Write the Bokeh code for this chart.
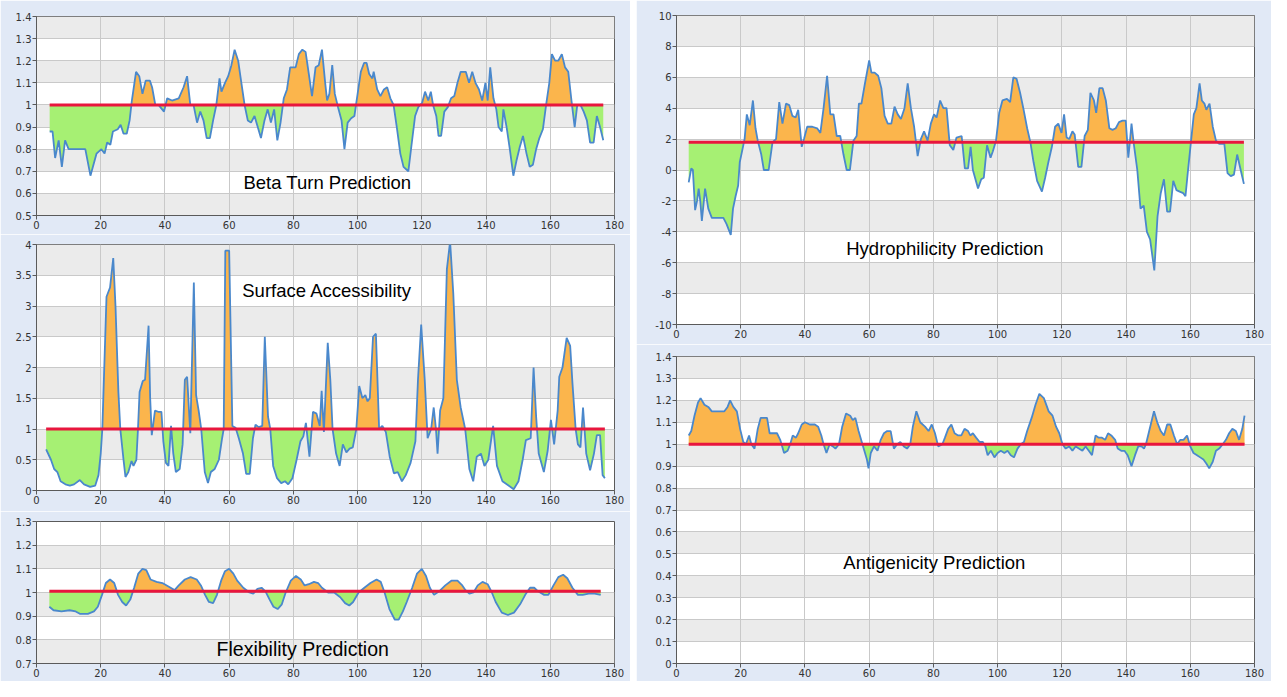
import numpy as np
from bokeh.plotting import figure
from bokeh.layouts import row, column
from bokeh.models import Range1d, FixedTicker, Label, Spacer, BoxAnnotation, Grid
from bokeh.embed import file_html
from bokeh.resources import INLINE

# ---------------- data ----------------
x_ticks = [0, 20, 40, 60, 80, 100, 120, 140, 160, 180]

beta_title = "Beta Turn Prediction"
beta_threshold = 1.0
beta_yticks = [0.5, 0.6, 0.7, 0.8, 0.9, 1.0, 1.1, 1.2, 1.3, 1.4]
beta_x = [4.1, 5, 5.8, 6.9, 7.9, 8.9, 10, 12, 14, 15.2, 16.8, 18.7, 20.2, 21.2, 22, 23, 23.8, 25.3, 26.2, 27.1,
          28.1, 29, 29.7, 31, 32, 33, 34, 35.3, 36, 37, 38, 39.7, 40.7, 42.2, 44.3, 45.8, 46.9, 47.9, 48.9, 50,
          51, 52, 53, 54, 55, 56, 57, 57.6, 58.7, 59.7, 60.7, 61.7, 62.8, 63.8, 64.8, 65.8, 66.8, 67.9, 68.9, 69.9,
          71, 72, 73, 74, 75, 76, 77, 78, 79, 80.7, 81.7, 82.8, 83.8, 84.8, 85.8, 86.9, 87.9, 88.9, 89.9, 90.5,
          91.2, 92.1, 92.9, 93.9, 95, 95.9, 96.9, 98, 99, 100, 101, 102, 102.8, 103.6, 104.6, 105, 106.1, 107.1,
          108.2, 109.2, 110.2, 111.2, 112.2, 113.3, 114.3, 115.8, 116.8, 117.9, 118.9, 120.1, 121, 122, 122.8,
          123.5, 124.5, 125.2, 126, 127, 128.1, 129.1, 130.1, 131.1, 132.1, 133.7, 134.7, 135.7, 136.7, 137.8,
          138.8, 139.8, 140.5, 141.3, 142.3, 143.2, 143.9, 144.9, 145.4, 146.4, 147.4, 148.5, 149.5, 150.5, 151.5,
          152.6, 153.6, 154.6, 155.6, 156.6, 157.7, 158.7, 159.7, 160.5, 161.5, 162.5, 163.6, 164.6, 165.6, 166.6,
          167.6, 168.4, 169.4, 170.4, 171.4, 172.4, 173.5, 174.5, 175.5, 176.5]
beta_y = [0.88, 0.88, 0.76, 0.84, 0.72, 0.84, 0.80, 0.80, 0.80, 0.80, 0.68, 0.78, 0.80, 0.78, 0.83, 0.82, 0.88, 0.89,
          0.91, 0.87, 0.87, 0.93, 1.02, 1.15, 1.13, 1.05, 1.11, 1.11, 1.08, 1.0, 1.0, 0.97, 1.03, 1.02, 1.03, 1.08,
          1.13, 1.0, 1.0, 0.92, 0.97, 0.93, 0.85, 0.85, 0.93, 1.0, 1.12, 1.06, 1.10, 1.13, 1.18, 1.25, 1.20, 1.10,
          1.0, 0.93, 0.92, 0.95, 0.90, 0.85, 0.93, 0.98, 0.92, 0.98, 0.84, 0.92, 1.03, 1.07, 1.17, 1.17, 1.23, 1.25,
          1.24, 1.14, 1.04, 1.17, 1.18, 1.25, 1.10, 1.02, 1.05, 1.18, 1.05, 0.99, 0.93, 0.80, 0.92, 0.94, 0.95,
          1.05, 1.15, 1.19, 1.19, 1.14, 1.12, 1.15, 1.07, 1.04, 1.07, 1.08, 1.03, 1.0, 0.90, 0.78, 0.72, 0.70,
          0.82, 0.95, 0.99, 1.01, 1.06, 1.02, 1.06, 1.0, 0.95, 0.86, 0.86, 0.97, 0.99, 1.03, 1.04, 1.10, 1.15,
          1.15, 1.10, 1.15, 1.10, 1.07, 1.02, 1.10, 1.02, 1.17, 1.03, 0.98, 0.90, 0.88, 0.98, 0.90, 0.80, 0.68,
          0.75, 0.81, 0.86, 0.78, 0.72, 0.73, 0.80, 0.85, 0.89, 1.0, 1.10, 1.23, 1.20, 1.20, 1.23, 1.17, 1.15,
          1.02, 0.90, 1.0, 1.0, 0.97, 0.93, 0.83, 0.83, 0.95, 0.90, 0.84]

surf_title = "Surface Accessibility"
surf_threshold = 1.0
surf_yticks = [0, 0.5, 1, 1.5, 2, 2.5, 3, 3.5, 4]
surf_x = [3, 4.5, 5.5, 6.5, 7.5, 9, 10.4, 11.7, 13.5, 14.8, 16.7, 18.3, 19.3, 20, 20.5, 21.8, 22.9, 23.9, 24.6,
          25.5, 26.1, 27.1, 27.7, 28.6, 29.6, 30.2, 31.1, 31.6, 32.1, 33.1, 33.8, 34.9, 35.4, 35.9, 36.9, 37.9,
          38.9, 39.5, 40.3, 41.1, 41.9, 42.6, 43.4, 44.6, 45.5, 46.2, 46.9, 47.9, 49, 49.7, 50.5, 51.3, 52.4,
          53.4, 54.3, 55.5, 56.8, 57.8, 58.3, 58.8, 60, 61, 62, 63, 64.3, 65.3, 66.4, 67.4, 68.2, 69.2, 70.3,
          71.1, 72.1, 72.8, 73.7, 74.9, 76.2, 77.4, 78.4, 79.7, 81, 82.2, 83.1, 83.9, 85, 86.1, 87.2, 88.2, 88.8,
          89.5, 90.7, 91.5, 92.2, 93.3, 94.4, 95.4, 96.5, 97.5, 98.5, 99.6, 100.5, 101.5, 102.4, 103.1, 103.8,
          104.8, 105.7, 106.7, 107.7, 108.8, 110, 111.3, 112.5, 113.8, 115, 116.5, 118, 118.8, 119.8, 120.9,
          121.8, 122.9, 123.7, 124.4, 124.9, 125.7, 126.7, 127.8, 128.8, 129.8, 130.9, 132.1, 133.5, 134.8, 136,
          137.1, 138.4, 139.5, 140.7, 142.2, 143.4, 145.1, 147, 148.6, 150.1, 151.4, 152.4, 153.9, 154.8, 155.6,
          156.4, 158, 159.2, 160.2, 161.2, 162.3, 162.8, 163.8, 165.1, 166.2, 166.9, 167.9, 168.6, 169.4, 170.2,
          171.2, 172.4, 173.6, 174.5, 175.5, 176.3, 177]
surf_y = [0.67, 0.5, 0.35, 0.3, 0.15, 0.1, 0.08, 0.1, 0.17, 0.1, 0.06, 0.08, 0.25, 0.6, 1.0, 3.15, 3.3, 3.78, 3.0,
          1.6, 1.0, 0.5, 0.22, 0.3, 0.48, 0.4, 0.5, 1.0, 1.6, 1.78, 1.8, 2.68, 1.5, 0.9, 1.3, 1.28, 1.28, 0.8,
          0.45, 0.4, 1.05, 0.6, 0.3, 0.35, 0.75, 1.8, 1.85, 0.93, 3.38, 1.55, 1.3, 1.0, 0.3, 0.12, 0.3, 0.35,
          0.5, 0.85, 1.0, 3.9, 3.9, 1.05, 1.02, 0.85, 0.6, 0.27, 0.27, 0.85, 1.07, 1.03, 1.05, 2.5, 1.2, 1.0,
          0.4, 0.2, 0.12, 0.15, 0.1, 0.2, 0.5, 0.8, 0.88, 1.1, 0.55, 1.28, 1.25, 1.05, 1.62, 0.95, 2.4, 1.8,
          1.0, 0.6, 0.4, 0.75, 0.62, 0.68, 0.7, 1.0, 1.7, 1.5, 1.55, 1.45, 1.5, 2.5, 2.55, 1.0, 1.05, 0.95,
          0.55, 0.28, 0.3, 0.15, 0.25, 0.45, 0.8, 1.8, 2.7, 1.8, 0.85, 1.0, 1.35, 1.0, 0.6, 1.3, 1.5, 3.6,
          4.05, 3.2, 1.8, 1.35, 1.0, 0.35, 0.15, 0.55, 0.6, 0.4, 0.5, 1.05, 0.4, 0.15, 0.08, 0.02, 0.15, 0.5,
          0.82, 0.85, 2.0, 1.2, 0.6, 0.3, 0.65, 1.15, 0.75, 1.3, 1.85, 2.0, 2.48, 2.35, 1.75, 1.0, 0.75, 0.7,
          1.35, 0.6, 0.33, 0.6, 0.9, 0.9, 0.25, 0.2]

flex_title = "Flexibility Prediction"
flex_threshold = 1.005
flex_yticks = [0.7, 0.8, 0.9, 1.0, 1.1, 1.2, 1.3]
flex_x = [4, 5.3, 7.8, 10.3, 12.2, 13.5, 16, 17.9, 19.1, 20.4, 21.6, 22.9, 24.2, 25.4, 26.7, 27.9, 29.2, 30.4,
          31.7, 33, 34.2, 35.5, 37.4, 39.2, 41.1, 43, 44.3, 46.2, 48, 49.9, 51.2, 52.5, 53.7, 55, 56.2, 57.5,
          58.7, 60, 61.3, 62.5, 64.4, 66.3, 67.5, 68.8, 70.1, 71.3, 72.6, 73.8, 75.1, 76.4, 77.6, 79.2, 80.8,
          82.3, 83.5, 84.8, 86.4, 87.7, 88.9, 90.8, 92.7, 94.6, 96.1, 97.4, 98.6, 100.3, 102.1, 104, 105.9,
          107.2, 108.4, 109.9, 111.6, 112.8, 114.1, 115.3, 117, 118.5, 120, 121.3, 122.5, 123.8, 125.4, 127.3,
          129.2, 131.1, 132.6, 133.6, 134.8, 136.1, 137.4, 138.9, 140.5, 141.8, 143, 144.9, 146.8, 148.7,
          150.6, 152.2, 153.7, 155, 156.2, 158.1, 159.4, 161, 162.5, 164, 165.3, 166.9, 168.6, 170.1, 172,
          173.8, 175.7]
flex_y = [0.94, 0.925, 0.92, 0.925, 0.92, 0.91, 0.91, 0.92, 0.94, 0.99, 1.04, 1.055, 1.04, 0.99, 0.96, 0.945,
          0.97, 1.02, 1.08, 1.1, 1.095, 1.055, 1.045, 1.04, 1.025, 1.01, 1.03, 1.055, 1.065, 1.055, 1.03, 0.99,
          0.96, 0.955, 0.99, 1.05, 1.09, 1.1, 1.08, 1.05, 1.02, 1.0, 0.995, 1.015, 1.02, 1.005, 0.97, 0.94,
          0.93, 0.95, 1.0, 1.05, 1.07, 1.055, 1.03, 1.035, 1.045, 1.04, 1.02, 1.0, 1.0, 0.98, 0.955, 0.945,
          0.96, 1.0, 1.02, 1.04, 1.055, 1.045, 1.0, 0.93, 0.885, 0.885, 0.92, 0.96, 1.02, 1.08, 1.1, 1.07,
          1.02, 0.99, 1.005, 1.03, 1.05, 1.05, 1.03, 1.01, 0.995, 1.0, 1.03, 1.045, 1.035, 1.0, 0.96, 0.915,
          0.905, 0.915, 0.95, 0.99, 1.02, 1.02, 1.005, 0.99, 0.99, 1.03, 1.065, 1.075, 1.06, 1.02, 0.99, 0.99,
          0.995, 0.995, 0.99]

hydro_title = "Hydrophilicity Prediction"
hydro_threshold = 1.8
hydro_yticks = [-10, -8, -6, -4, -2, 0, 2, 4, 6, 8, 10]
hydro_x = [3.8, 4.6, 5.1, 5.8, 6.4, 6.9, 7.4, 7.9, 8.9, 9.9, 11, 12.5, 14.6, 15.6, 16.9, 17.6, 18.4, 19.2, 19.7,
           20.7, 21.2, 21.9, 22.8, 23.8, 24.6, 25.3, 26.4, 27.2, 28.7, 29.9, 31, 32, 33, 34.1, 35.1, 36.1, 37.1,
           37.9, 39, 39.7, 40.7, 42.3, 43.8, 44.8, 45.8, 46.9, 47.9, 48.9, 49.9, 51, 52, 53, 54, 55.1, 56.1,
           56.8, 57.6, 58.6, 60, 60.7, 61.7, 62.8, 63.8, 64.8, 65.8, 66.9, 67.9, 68.9, 69.9, 71, 72, 73, 74,
           75.1, 76.1, 77.1, 78.2, 79.2, 80.2, 81, 82.1, 83.1, 84.1, 85.1, 86.2, 87.2, 88.8, 89.8, 90.8, 91.6,
           92.3, 93.9, 94.9, 95.7, 96.7, 97.8, 98.5, 99.5, 100.5, 101.5, 102.9, 103.9, 104.9, 105.9, 107, 108,
           109.2, 110.2, 111.2, 112.3, 113.8, 114.8, 115.8, 116.9, 117.9, 118.9, 119.9, 120.7, 121.5, 122.3,
           123.3, 124, 125.1, 126.1, 127.1, 128.1, 128.9, 130, 130.7, 131.7, 132.7, 133.7, 134.8, 135.8, 136.8,
           137.8, 138.9, 139.9, 140.7, 141.1, 141.7, 142.4, 143.5, 144.5, 145.5, 146.5, 147.5, 148.8, 149.8,
           150.8, 151.8, 152.8, 153.7, 154.7, 155.7, 156.7, 157.8, 158.5, 159.3, 160.3, 161.1, 161.9, 162.9,
           163.6, 164.4, 165, 166, 167, 168, 169, 170.6, 171.6, 172.6, 173.6, 174.6, 175.7, 176.7]
hydro_y = [-0.8, 0.1, 0.0, -2.6, -2.0, -1.2, -2.0, -3.3, -1.2, -2.5, -3.1, -3.1, -3.1, -3.5, -4.2, -2.5, -1.7,
           -1.0, 0.5, 1.5, 2.0, 3.6, 2.9, 4.5, 2.7, 1.9, 1.0, 0.0, 0.0, 1.8, 2.0, 4.4, 3.0, 4.3, 4.2, 3.5, 3.4,
           3.9, 1.5, 2.0, 2.8, 2.8, 2.7, 2.4, 4.0, 6.1, 3.6, 3.6, 2.2, 2.2, 1.0, 0.0, 0.0, 1.9, 2.2, 4.3, 4.3,
           5.5, 7.1, 6.3, 6.3, 6.1, 5.3, 3.5, 3.0, 3.0, 4.1, 3.6, 3.3, 4.0, 5.6, 4.0, 2.8, 0.9, 2.0, 2.5, 1.9,
           3.0, 3.6, 3.4, 4.5, 4.0, 4.0, 1.6, 1.3, 2.1, 2.2, 0.1, 0.1, 1.5, 0.0, -1.2, -0.6, -0.5, 1.6, 0.8,
           1.2, 1.9, 3.7, 4.5, 4.6, 4.4, 6.0, 5.9, 5.0, 4.0, 2.7, 1.8, 0.5, -0.7, -1.4, -0.5, 0.5, 1.5, 2.8,
           3.0, 2.4, 3.6, 2.1, 2.0, 2.5, 2.3, 0.2, 0.2, 2.2, 2.6, 5.0, 4.5, 3.7, 5.3, 5.3, 4.5, 2.7, 2.6, 2.7,
           3.1, 3.2, 3.2, 0.8, 1.6, 3.0, 1.7, 0.0, -2.5, -2.3, -4.0, -4.5, -6.5, -3.0, -1.5, -0.6, -2.7, -2.7,
           -0.7, -1.3, -1.4, -1.5, -1.7, 0.0, 2.0, 3.6, 4.0, 5.6, 4.5, 4.3, 3.9, 4.3, 2.8, 1.9, 1.7, 1.7, -0.2,
           -0.4, -0.3, 1.0, 0.0, -0.9]

anti_title = "Antigenicity Prediction"
anti_threshold = 1.0
anti_yticks = [0, 0.1, 0.2, 0.3, 0.4, 0.5, 0.6, 0.7, 0.8, 0.9, 1.0, 1.1, 1.2, 1.3, 1.4]
anti_x = [3.8, 4.6, 5.6, 6.7, 7.5, 8.7, 9.9, 11, 12.8, 14.9, 15.9, 16.7, 17.7, 18.8, 19.8, 20.8, 21.6, 22.6,
          23.3, 24.3, 25.3, 26.2, 27.2, 28.2, 29, 30.3, 31.3, 32.3, 33.5, 34.6, 35.4, 36.2, 37.2, 37.9, 39, 40,
          41.5, 43.1, 44.1, 45.1, 45.8, 46.7, 47.7, 48.7, 49.5, 50.6, 51.6, 52.8, 54.1, 54.9, 55.7, 56.7, 57.7,
          58.5, 59.3, 59.8, 60.5, 61.5, 62.6, 63.6, 64.6, 65.6, 66.7, 67.7, 68.7, 69.7, 70.8, 71.8, 72.8, 73.6,
          74.7, 75.9, 77.4, 78.5, 79.5, 80.5, 81.5, 82.8, 83.6, 84.6, 85.6, 86.6, 87.7, 88.7, 89.7, 90.8, 91.5,
          92.3, 93.3, 94.4, 95.4, 96.2, 96.9, 97.9, 99, 100, 101, 102.1, 103.1, 104.1, 105.1, 106.2, 107.2,
          108.2, 109.2, 110.6, 111.8, 113, 114.4, 115.9, 117.1, 118.2, 119.2, 120.2, 121.2, 122.3, 123.3, 124.3,
          125.3, 126.4, 127.4, 128.4, 129.4, 130.5, 131.5, 132.5, 133.5, 134.4, 135.4, 136.6, 137.4, 138.5,
          139.5, 140.5, 141.7, 142.8, 143.8, 144.8, 145.6, 146.2, 147.2, 148.7, 149.7, 150.8, 151.8, 152.8,
          153.8, 154.9, 155.9, 156.9, 157.9, 159, 160, 161, 162.1, 163.1, 164.1, 165.1, 165.9, 167, 168, 169,
          170.1, 171.1, 172.1, 173.1, 174.2, 175.2, 176.2, 176.9]
anti_y = [1.04, 1.06, 1.13, 1.19, 1.21, 1.18, 1.17, 1.15, 1.15, 1.15, 1.17, 1.20, 1.17, 1.15, 1.07, 1.01, 1.0,
          1.04, 1.0, 0.98, 1.07, 1.12, 1.12, 1.12, 1.05, 1.05, 1.05, 1.02, 0.96, 0.97, 1.0, 1.04, 1.03, 1.05,
          1.09, 1.10, 1.09, 1.09, 1.08, 1.04, 1.0, 0.96, 1.0, 0.99, 0.98, 1.0, 1.08, 1.14, 1.13, 1.11, 1.12,
          1.06, 1.01, 0.97, 0.93, 0.89, 0.96, 0.99, 0.97, 1.02, 1.05, 1.06, 1.06, 0.98, 1.0, 1.01, 0.99, 0.98,
          1.0, 1.08, 1.15, 1.1, 1.08, 1.06, 1.09, 1.05, 0.99, 1.0, 1.03, 1.07, 1.09, 1.05, 1.04, 1.04, 1.07,
          1.06, 1.04, 1.05, 1.03, 1.01, 1.01, 0.99, 0.95, 0.97, 0.94, 0.96, 0.97, 0.96, 0.97, 0.95, 0.94, 0.98,
          1.0, 1.01, 1.06, 1.12, 1.18, 1.23, 1.21, 1.15, 1.13, 1.08, 1.05, 1.0, 0.98, 0.99, 0.97, 0.99, 0.98,
          0.97, 0.99, 0.97, 0.95, 1.04, 1.03, 1.03, 1.02, 1.05, 1.04, 1.02, 0.98, 0.97, 0.97, 0.95, 0.9, 0.95,
          0.99, 0.99, 0.98, 1.0, 1.06, 1.15, 1.1, 1.06, 1.04, 1.09, 1.09, 1.04, 1.0, 1.02, 1.02, 1.04, 0.99,
          0.96, 0.95, 0.94, 0.93, 0.91, 0.89, 0.92, 0.97, 0.98, 1.0, 1.02, 1.05, 1.07, 1.06, 1.02, 1.07, 1.13]

# ---------------- styling ----------------
BG = "#e1e9f6"
BAND = "#ebebeb"
GRID = "#c9c9c9"
ORANGE = "#fbb54c"
GREEN = "#a6f073"
BLUE = "#4a88cc"
RED = "#e8163e"
TICK_FONT = "DejaVu Sans"
TITLE_FONT = "Liberation Sans"


def split_fill(xs, ys, thr):
    X = [xs[0]]
    Y = [ys[0]]
    for i in range(1, len(xs)):
        x0, y0, x1, y1 = xs[i - 1], ys[i - 1], xs[i], ys[i]
        if (y0 - thr) * (y1 - thr) < 0:
            t = (thr - y0) / (y1 - y0)
            X.append(x0 + t * (x1 - x0))
            Y.append(thr)
        X.append(x1)
        Y.append(y1)
    X = np.array(X)
    Y = np.array(Y)
    return X, np.maximum(Y, thr), np.minimum(Y, thr)


def fmt(t):
    return f"{t:g}"


def make_panel(xs, ys, thr, yticks, title, tx, ty, fs, fw, fh, bl, br, bt, bb, top_grey):
    p = figure(frame_width=fw, frame_height=fh,
               x_range=Range1d(0, 180), y_range=Range1d(yticks[0], yticks[-1]),
               output_backend="svg", toolbar_location=None,
               min_border_left=bl, min_border_right=br, min_border_top=bt, min_border_bottom=bb)
    p.border_fill_color = BG
    p.background_fill_color = "white"
    p.outline_line_color = "#5a5a5a"
    p.outline_line_width = 1

    p.xaxis.ticker = FixedTicker(ticks=x_ticks)
    p.yaxis.ticker = FixedTicker(ticks=yticks)
    p.yaxis.major_label_overrides = {t: fmt(t) for t in yticks}
    p.xaxis.major_label_overrides = {t: fmt(t) for t in x_ticks}
    for ax in (p.xaxis, p.yaxis):
        ax.axis_line_color = "#5a5a5a"
        ax.major_tick_line_color = "#5a5a5a"
        ax.minor_tick_line_color = None
        ax.major_tick_out = 4
        ax.major_tick_in = 0
        ax.major_label_text_font = TICK_FONT
        ax.major_label_text_font_size = "10px"
        ax.major_label_text_color = "#333333"
        ax.major_label_standoff = 1

    # default grids off; grey bands alternate counted from the top, then grid lines over them
    p.xgrid.grid_line_color = None
    p.ygrid.grid_line_color = None
    n = len(yticks) - 1
    for i in range(n):
        k = n - 1 - i  # index counted from the top band
        if (k % 2 == 0) == top_grey:
            p.add_layout(BoxAnnotation(bottom=yticks[i], top=yticks[i + 1], fill_color=BAND,
                                       fill_alpha=1.0, line_color=None, level="underlay"))
    p.add_layout(Grid(dimension=0, ticker=FixedTicker(ticks=x_ticks), grid_line_color=GRID))
    p.add_layout(Grid(dimension=1, ticker=FixedTicker(ticks=yticks), grid_line_color=GRID))

    X, up, lo = split_fill(xs, ys, thr)
    p.varea(x=X, y1=np.full_like(X, thr), y2=up, fill_color=ORANGE)
    p.varea(x=X, y1=np.full_like(X, thr), y2=lo, fill_color=GREEN)
    p.line(x=xs, y=ys, line_color=BLUE, line_width=1.8)
    p.line(x=[xs[0], xs[-1]], y=[thr, thr], line_color=RED, line_width=3)

    p.add_layout(Label(x=tx, y=ty, text=title, text_align="center", text_baseline="middle",
                       text_font=TITLE_FONT, text_font_size=fs, text_color="#000000"))
    return p


LFW = 578
RFW = 578

p_beta = make_panel(beta_x, beta_y, beta_threshold, beta_yticks, beta_title, 90.6, 0.65, "18.5px",
                    LFW, 199, 36, 16, 16, 19, True)
p_surf = make_panel(surf_x, surf_y, surf_threshold, surf_yticks, surf_title, 90.5, 3.25, "18.5px",
                    LFW, 246, 36, 16, 10, 21, True)
p_flex = make_panel(flex_x, flex_y, flex_threshold, flex_yticks, flex_title, 82.9, 0.76, "19.5px",
                    LFW, 142, 36, 16, 10, 18, False)
p_hydro = make_panel(hydro_x, hydro_y, hydro_threshold, hydro_yticks, hydro_title, 83.6, -5.1, "18.5px",
                     RFW, 309, 40, 17, 15, 20, True)
p_anti = make_panel(anti_x, anti_y, anti_threshold, anti_yticks, anti_title, 80.3, 0.46, "18.5px",
                    RFW, 307, 40, 17, 12, 18, True)

layout = row(column(p_beta, p_surf, p_flex), Spacer(width=6), column(p_hydro, p_anti))

open("out.html", "w").write(file_html(layout, INLINE))
